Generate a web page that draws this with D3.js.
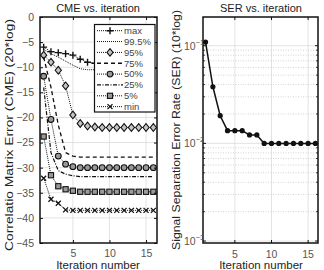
<!DOCTYPE html>
<html>
<head>
<meta charset="utf-8">
<script src="https://cdn.jsdelivr.net/npm/d3@7"></script>
<style>
  body { margin: 0; background: #fff; }
  text { font-family: "Liberation Sans", Arial, sans-serif; }
</style>
</head>
<body>
<svg id="chart" width="324" height="270"></svg>
<script>
// Iterations
const iters = d3.range(1, 17);

// CME percentiles (dB, 20*log)
const cmeMax  = [-6.0, -6.9, -7.1, -7.3, -7.6, -8.4, -9.0, -9.2, -9.3, -9.4, -9.5, -9.6, -9.7, -9.8, -10.0, -10.2];
const cme995  = [-6.5, -7.3, -8.0, -8.8, -9.6, -10.3, -10.5, -10.5, -10.5, -10.5, -10.5, -10.6, -10.6, -10.6, -10.6, -10.6];
const cme95   = [-7.6, -9.0, -10.6, -13.7, -19.5, -21.2, -21.7, -21.9, -22.0, -22.0, -22.0, -22.0, -22.0, -22.0, -22.0, -22.0];
const cme75   = [-8.0, -14.0, -21.5, -27.0, -27.7, -27.9, -27.9, -27.9, -27.9, -27.9, -27.9, -27.9, -27.9, -27.9, -27.9, -27.9];
const cme50   = [-11.8, -20.4, -27.7, -29.3, -29.8, -30.0, -30.0, -30.0, -30.0, -30.0, -30.0, -30.0, -30.0, -30.0, -30.0, -30.0];
const cme25   = [-14.0, -27.0, -30.6, -31.3, -31.6, -31.8, -31.8, -31.8, -31.8, -31.8, -31.8, -31.8, -31.8, -31.8, -31.8, -31.8];
const cme5    = [-23.8, -31.5, -33.7, -34.3, -34.6, -34.8, -34.8, -34.8, -34.8, -34.8, -34.8, -34.8, -34.8, -34.8, -34.8, -34.8];
const cmeMin  = [-32.1, -36.3, -37.1, -38.4, -38.5, -38.5, -38.5, -38.5, -38.5, -38.5, -38.5, -38.5, -38.5, -38.5, -38.5, -38.5];

// SER per iteration
const ser = [0.109, 0.038, 0.0192, 0.0135, 0.0135, 0.0135, 0.0122, 0.0122, 0.01, 0.01, 0.01, 0.01, 0.01, 0.01, 0.01, 0.01];

// Tick values
const xTicks = [5, 10, 15];
const cmeTicks = [0, -5, -10, -15, -20, -25, -30, -35, -40, -45];
const serTicks = [1e-3, 1e-2, 1e-1];
const serExp = ["\u22123", "\u22122", "\u22121"];

const legendNames = ["max", "99.5%", "95%", "75%", "50%", "25%", "5%", "min"];

let svg = d3.select("#chart");
const ink = "#111";
const tickCol = "#555";
const gridCol = "#dcdcdc";

// series styles: dash + marker
let series = [
    { name: legendNames[0], v: cmeMax, dash: "1,1", marker: "plus" },
    { name: legendNames[1], v: cme995, dash: "1,1", marker: null },
    { name: legendNames[2], v: cme95,  dash: "1,1", marker: "diamond" },
    { name: legendNames[3], v: cme75,  dash: "4,3", marker: null, w: 1.3 },
    { name: legendNames[4], v: cme50,  dash: "1,1", marker: "circle" },
    { name: legendNames[5], v: cme25,  dash: "4,1.5,1,1.5", marker: null, w: 1.2 },
    { name: legendNames[6], v: cme5,   dash: "1,1", marker: "square" },
    { name: legendNames[7], v: cmeMin, dash: "1,1", marker: "cross" }
];

function drawMarker(g, type, x, y) {
    if (type == "plus") {
        g.append("path").attr("d", `M${x-3.5},${y}H${x+3.5}M${x},${y-3.5}V${y+3.5}`)
            .attr("stroke", ink).attr("stroke-width", 1.4);
    } else if (type == "cross") {
        g.append("path").attr("d", `M${x-2.5},${y-2.5}L${x+2.5},${y+2.5}M${x-2.5},${y+2.5}L${x+2.5},${y-2.5}`)
            .attr("stroke", ink).attr("stroke-width", 1.3);
    } else if (type == "diamond") {
        g.append("path").attr("d", `M${x},${y-3.8}L${x+3.1},${y}L${x},${y+3.8}L${x-3.1},${y}Z`)
            .attr("fill", "#c4c4c4").attr("stroke", ink).attr("stroke-width", 1.1);
    } else if (type == "circle") {
        g.append("circle").attr("cx", x).attr("cy", y).attr("r", 2.9)
            .attr("fill", "#999").attr("stroke", ink).attr("stroke-width", 1.1);
    } else if (type == "square") {
        g.append("rect").attr("x", x-2.6).attr("y", y-2.6).attr("width", 5.2).attr("height", 5.2)
            .attr("fill", "#999").attr("stroke", ink).attr("stroke-width", 1.1);
    } else if (type == "dot") {
        g.append("circle").attr("cx", x).attr("cy", y).attr("r", 2.6).attr("fill", ink);
    }
}

// ---------------- Left: CME ----------------
let x1 = d3.scaleLinear().domain([0.5, 16.5]).range([40, 157]);
let y1 = d3.scaleLinear().domain([-45, 0]).range([243, 17]);

let g1 = svg.append("g");
// grid
g1.selectAll(".vg").data(xTicks).enter().append("line")
    .attr("x1", d => x1(d)).attr("x2", d => x1(d)).attr("y1", 17).attr("y2", 243)
    .attr("stroke", gridCol).attr("stroke-width", 0.8);
g1.selectAll(".hg").data(cmeTicks.slice(1, -1)).enter().append("line")
    .attr("x1", 40).attr("x2", 157).attr("y1", d => y1(d)).attr("y2", d => y1(d))
    .attr("stroke", gridCol).attr("stroke-width", 0.8);

let line1 = d3.line().x((d, i) => x1(iters[i])).y(d => y1(d));
series.forEach(function(s) {
    g1.append("path").attr("d", line1(s.v)).attr("fill", "none")
        .attr("stroke", ink).attr("stroke-width", s.w || 1)
        .attr("stroke-dasharray", s.dash);
    if (s.marker) s.v.forEach((d, i) => drawMarker(g1, s.marker, x1(iters[i]), y1(d)));
});

// axes (ticks inside)
g1.append("g").attr("transform", "translate(0,243)")
    .call(d3.axisBottom(x1).tickValues(xTicks).tickSizeInner(-3).tickSizeOuter(0).tickPadding(7))
    .call(a => { a.select(".domain").remove(); a.selectAll("line").attr("stroke", ink);
        a.selectAll("text").attr("fill", tickCol).style("font-size", "10.5px"); });
g1.append("g").attr("transform", "translate(0,17)")
    .call(d3.axisTop(x1).tickValues(xTicks).tickSizeInner(-3).tickSizeOuter(0).tickFormat(""))
    .call(a => { a.select(".domain").remove(); a.selectAll("line").attr("stroke", ink); });
g1.append("g").attr("transform", "translate(40,0)")
    .call(d3.axisLeft(y1).tickValues(cmeTicks).tickSizeInner(-3).tickSizeOuter(0).tickPadding(6)
        .tickFormat(d => d < 0 ? "\u2212" + (-d) : d))
    .call(a => { a.select(".domain").remove(); a.selectAll("line").attr("stroke", ink);
        a.selectAll("text").attr("fill", tickCol).style("font-size", "10.5px"); });
g1.append("g").attr("transform", "translate(157,0)")
    .call(d3.axisRight(y1).tickValues(cmeTicks).tickSizeInner(-3).tickSizeOuter(0).tickFormat(""))
    .call(a => { a.select(".domain").remove(); a.selectAll("line").attr("stroke", ink); });
g1.append("rect").attr("x", 40).attr("y", 17).attr("width", 117).attr("height", 226)
    .attr("fill", "none").attr("stroke", ink).attr("stroke-width", 1.5);

// legend
let lg = svg.append("g");
lg.append("rect").attr("x", 94.5).attr("y", 24.5).attr("width", 60.5).attr("height", 87.5)
    .attr("fill", "#fff").attr("stroke", ink).attr("stroke-width", 1.2);
series.forEach(function(s, i) {
    let yy = 30.7 + i * 10.85;
    lg.append("line").attr("x1", 97).attr("x2", 123).attr("y1", yy).attr("y2", yy)
        .attr("stroke", ink).attr("stroke-width", s.w || 1).attr("stroke-dasharray", s.dash);
    if (s.marker) drawMarker(lg, s.marker, 110, yy);
    lg.append("text").attr("x", 124).attr("y", yy + 3.3).text(s.name)
        .attr("fill", "#444").style("font-size", "9.5px");
});

// titles and labels
svg.append("text").attr("x", 98).attr("y", 12).attr("text-anchor", "middle")
    .style("font-size", "11px").attr("fill", "#222").text("CME vs. iteration");
svg.append("text").attr("x", 98).attr("y", 269).attr("text-anchor", "middle")
    .style("font-size", "11.5px").attr("fill", "#222").text("Iteration number");
svg.append("text").attr("transform", "translate(13,135) rotate(-90)").attr("text-anchor", "middle")
    .style("font-size", "11px").attr("fill", "#222").attr("textLength", 232).attr("lengthAdjust", "spacingAndGlyphs")
    .text("Correlatio Matrix Error (CME) (20*log)");

// ---------------- Right: SER ----------------
let x2 = d3.scaleLinear().domain([0.65, 16.35]).range([203, 318]);
let y2 = d3.scaleLog().domain([Math.pow(10, -3.02), Math.pow(10, -0.706)]).range([243, 17]);

let g2 = svg.append("g");
let minor = [];
serTicks.forEach(dec => d3.range(2, 10).forEach(k => {
    if (dec * k < y2.domain()[1]) minor.push(dec * k);
}));
g2.selectAll(".vg").data(xTicks).enter().append("line")
    .attr("x1", d => x2(d)).attr("x2", d => x2(d)).attr("y1", 17).attr("y2", 243)
    .attr("stroke", gridCol).attr("stroke-width", 0.8);
g2.selectAll(".mg").data(minor).enter().append("line")
    .attr("x1", 203).attr("x2", 318).attr("y1", d => y2(d)).attr("y2", d => y2(d))
    .attr("stroke", "#c8c8c8").attr("stroke-width", 0.8).attr("stroke-dasharray", "1,1.5");
g2.selectAll(".hg").data(serTicks).enter().append("line")
    .attr("x1", 203).attr("x2", 318).attr("y1", d => y2(d)).attr("y2", d => y2(d))
    .attr("stroke", gridCol).attr("stroke-width", 0.8);

// ticks inside
g2.selectAll(".tb").data(xTicks).enter().append("path")
    .attr("d", d => `M${x2(d)},243v-3M${x2(d)},17v3`).attr("stroke", ink);
g2.selectAll(".tl").data(serTicks).enter().append("path")
    .attr("d", d => `M203,${y2(d)}h3M318,${y2(d)}h-3`).attr("stroke", ink);
g2.selectAll(".tm").data(minor).enter().append("path")
    .attr("d", d => `M203,${y2(d)}h2M318,${y2(d)}h-2`).attr("stroke", ink).attr("stroke-width", 0.8);

g2.selectAll(".xl").data(xTicks).enter().append("text")
    .attr("x", d => x2(d)).attr("y", 258).attr("text-anchor", "middle")
    .attr("fill", tickCol).style("font-size", "10.5px").text(d => d);

// log tick labels 10^k
serTicks.forEach(function(d, i) {
    let t = svg.append("text").attr("x", 184).attr("y", y2(d) + 4)
        .attr("fill", tickCol).style("font-size", "10.5px");
    t.append("tspan").text("10");
    t.append("tspan").attr("dy", -5).style("font-size", "7.5px").text(serExp[i]);
});

g2.append("path").attr("d", d3.line().x((d, i) => x2(iters[i])).y(d => y2(d))(ser))
    .attr("fill", "none").attr("stroke", ink).attr("stroke-width", 1.5);
ser.forEach((d, i) => drawMarker(g2, "dot", x2(iters[i]), y2(d)));

g2.append("rect").attr("x", 203).attr("y", 17).attr("width", 115).attr("height", 226)
    .attr("fill", "none").attr("stroke", ink).attr("stroke-width", 1.5);

svg.append("text").attr("x", 261).attr("y", 12).attr("text-anchor", "middle")
    .style("font-size", "11px").attr("fill", "#222").text("SER vs. iteration");
svg.append("text").attr("x", 261).attr("y", 269).attr("text-anchor", "middle")
    .style("font-size", "11.5px").attr("fill", "#222").text("Iteration number");
svg.append("text").attr("transform", "translate(180,130) rotate(-90)").attr("text-anchor", "middle")
    .style("font-size", "10.5px").attr("fill", "#222").attr("textLength", 240).attr("lengthAdjust", "spacingAndGlyphs")
    .text("Signal Separation Error Rate (SER) (10*log)");
</script>
</body>
</html>
